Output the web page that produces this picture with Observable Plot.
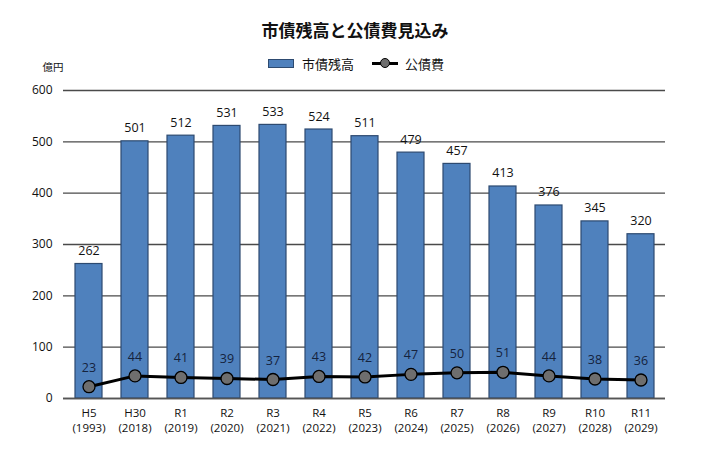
<!DOCTYPE html>
<html>
<head>
<meta charset="utf-8">
<script src="https://cdn.jsdelivr.net/npm/d3@7"></script>
<script src="https://cdn.jsdelivr.net/npm/@observablehq/plot@0.6"></script>
<style>
  body { margin: 0; background: #fff; font-family: "Noto Sans CJK JP", "Noto Sans", sans-serif; }
  #wrap { width: 710px; }
  #title { height: 51px; line-height: 60px; text-align: center; font-size: 17px; font-weight: bold; color: #111; overflow: visible; }
  #legend { position: relative; z-index: 1; height: 24px; margin-bottom: -17px; display: flex; justify-content: center; align-items: center; font-size: 13px; color: #111; gap: 6px; padding-left: 2px; }
  .sw { display: inline-block; width: 24px; height: 7px; background: #4f81bd; border: 1px solid #2d4a70; margin-right: 2px; }
  .ln { display: inline-block; position: relative; width: 26px; height: 10px; margin-left: 12px; margin-right: 1px; }
  .ln::before { content: ""; position: absolute; left: 0; right: 0; top: 3.5px; height: 3px; background: #000; }
  .ln::after { content: ""; position: absolute; left: 8px; top: 0; width: 8px; height: 8px; border-radius: 50%; background: #6e6e6e; border: 1px solid #000; }
  svg { display: block; }
</style>
</head>
<body>
<div id="wrap">
  <div id="title">市債残高と公債費見込み</div>
  <div id="legend"><span class="sw"></span><span>市債残高</span><span class="ln"></span><span>公債費</span></div>
  <div id="chart"></div>
</div>
<script>
const categories = ["H5\n(1993)", "H30\n(2018)", "R1\n(2019)", "R2\n(2020)", "R3\n(2021)", "R4\n(2022)", "R5\n(2023)", "R6\n(2024)", "R7\n(2025)", "R8\n(2026)", "R9\n(2027)", "R10\n(2028)", "R11\n(2029)"];
const balance = [262, 501, 512, 531, 533, 524, 511, 479, 457, 413, 376, 345, 320];
const debtService = [23, 44, 41, 39, 37, 43, 42, 47, 50, 51, 44, 38, 36];
const yTicks = [0, 100, 200, 300, 400, 500, 600];
const unitLabel = "億円";

const data = categories.map((c, i) => ({cat: c, bal: balance[i], ds: debtService[i]}));
const font = "'Open Sans', 'Noto Sans', sans-serif";

const chart = Plot.plot({
  width: 710,
  height: 415,
  marginTop: 32,
  marginBottom: 75,
  marginLeft: 63,
  marginRight: 45,
  style: {fontFamily: font, fontSize: "11.5px", color: "#111", background: "transparent"},
  x: {domain: categories, paddingInner: 0.42, paddingOuter: 0.21, label: null},
  y: {domain: [0, 600], label: null},
  marks: [
    Plot.ruleY(yTicks, {stroke: "#4a4a4a", strokeWidth: 1.3}),
    Plot.barY(data, {x: "cat", y: "bal", fill: "#4f81bd", stroke: "#2d4a70", strokeWidth: 1.2}),
    Plot.ruleY([0], {stroke: "#555", strokeWidth: 1.6}),
    Plot.text(data, {x: "cat", y: "bal", text: d => String(d.bal), dy: -13, fontSize: 12.5, fill: "#111"}),
    Plot.line(data, {x: "cat", y: "ds", stroke: "#000", strokeWidth: 3}),
    Plot.dot(data, {x: "cat", y: "ds", r: 6, fill: "#6e6e6e", stroke: "#000", strokeWidth: 1.3}),
    Plot.text(data, {x: "cat", y: "ds", text: d => String(d.ds), dy: -19, fontSize: 12.5, fill: "#15233d"}),
    Plot.axisY({ticks: yTicks, tickSize: 0, tickPadding: 11, fontSize: 12, label: null}),
    Plot.axisX({tickSize: 0, tickPadding: 8, fontSize: 11.5, label: null, lineHeight: 1.3}),
    Plot.text([unitLabel], {frameAnchor: "top-left", dx: -21, dy: -27, fontSize: 10.5, fontFamily: "'Noto Sans CJK JP', sans-serif"})
  ]
});
document.getElementById("chart").appendChild(chart);
</script>
</body>
</html>
